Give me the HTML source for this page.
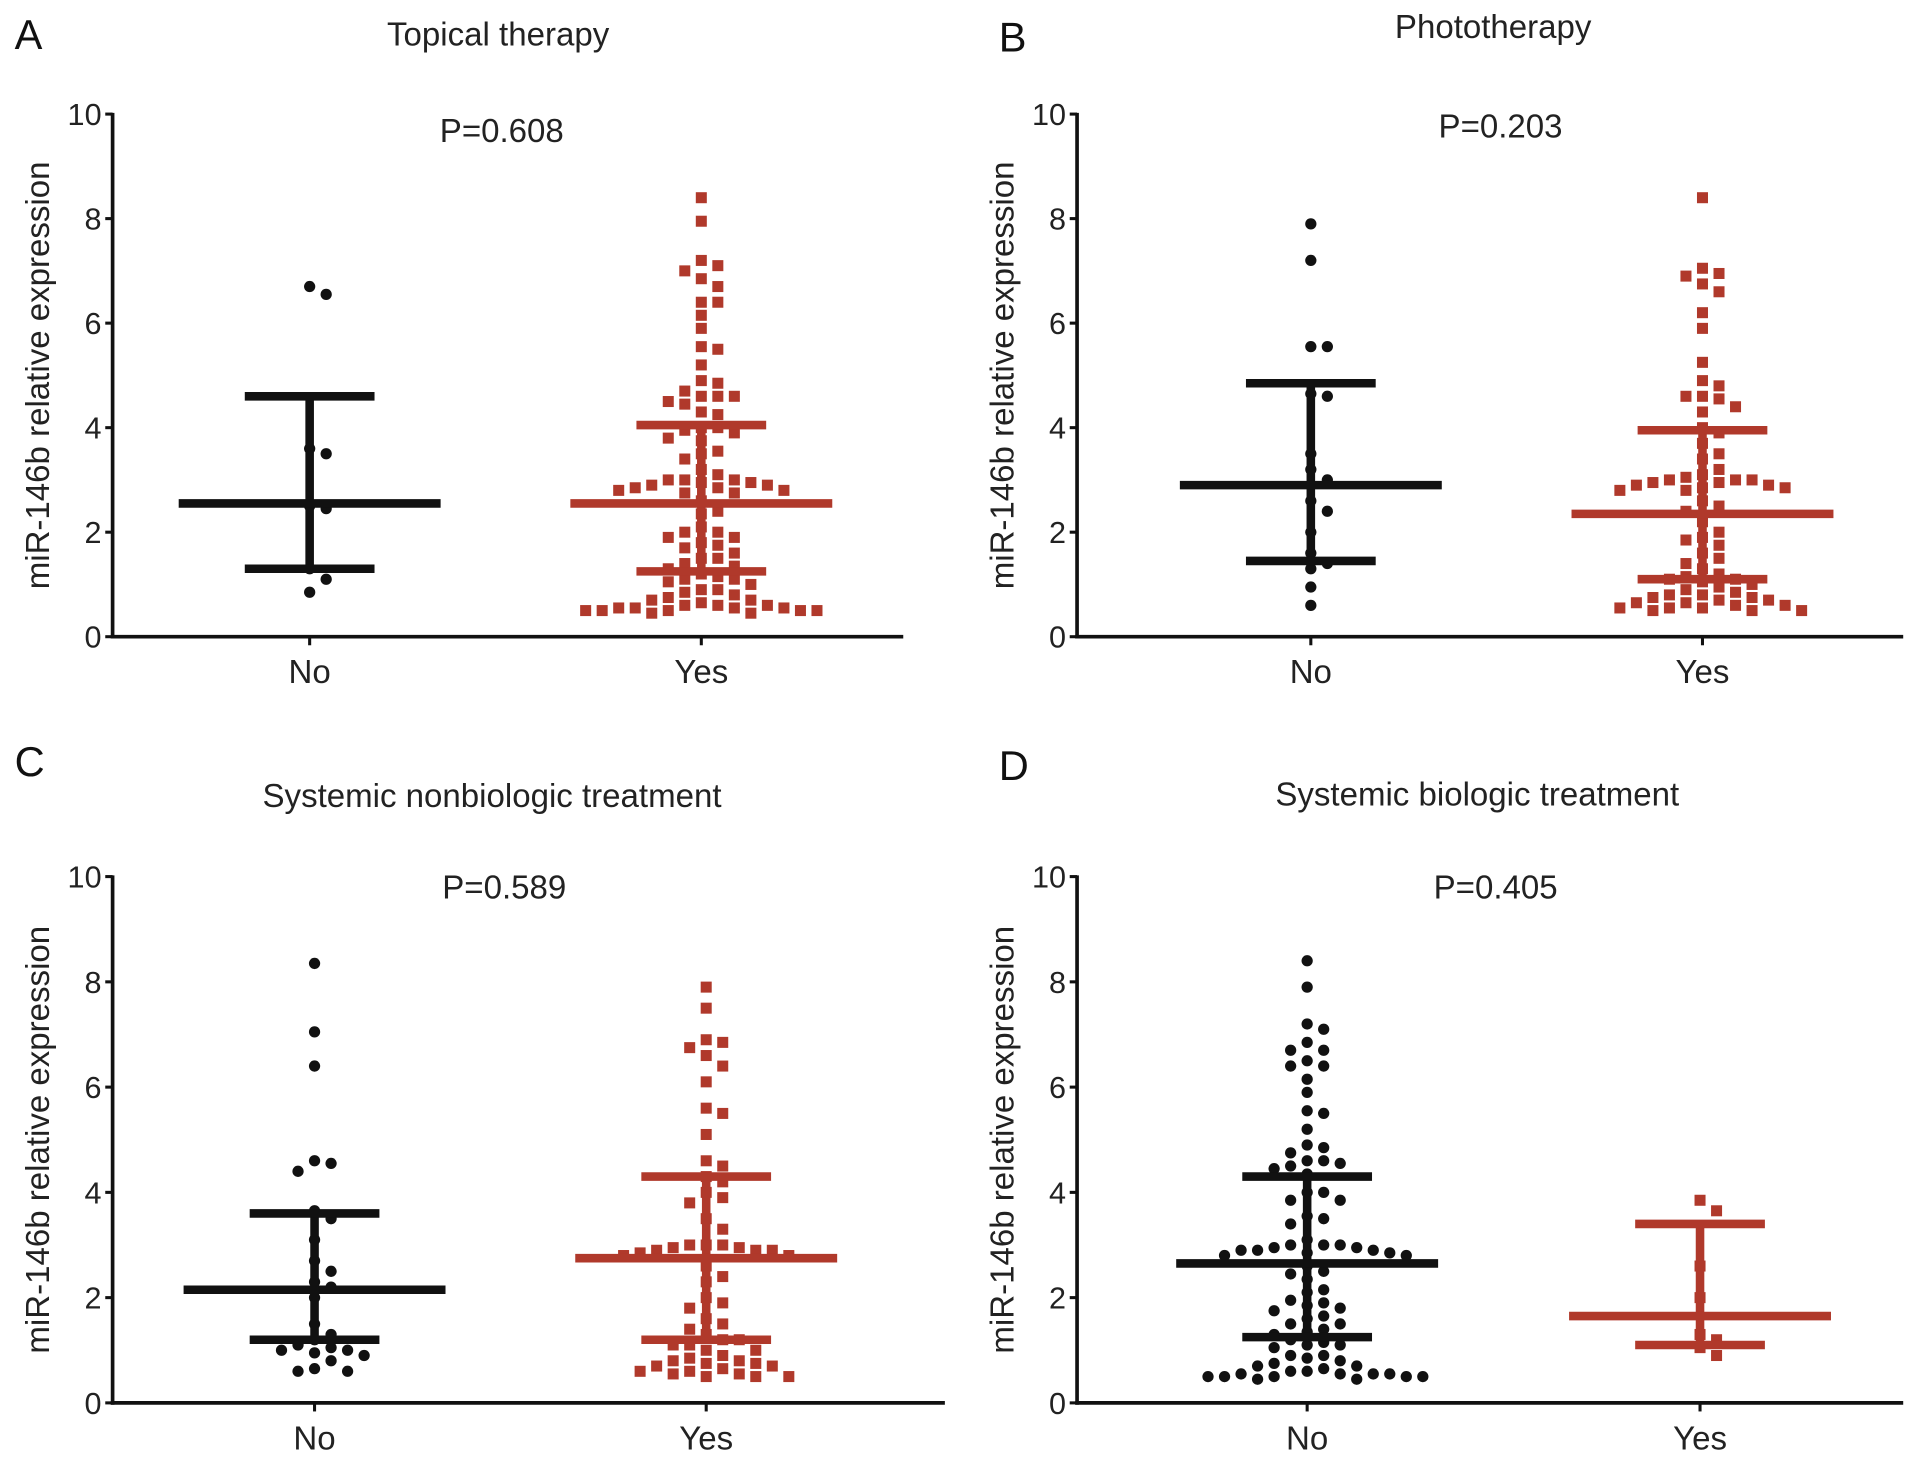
<!DOCTYPE html>
<html><head><meta charset="utf-8"><style>
html,body{margin:0;padding:0;background:#fff;}
svg{display:block;font-family:"Liberation Sans",sans-serif;}
</style></head><body>
<svg id="fig" width="1913" height="1457" viewBox="0 0 1563 1190">
<rect width="1563" height="1190" fill="#fff"/>
</svg>
<script>
// Panel data
const panelTitles = ["Topical therapy","Phototherapy","Systemic nonbiologic treatment","Systemic biologic treatment"];
const panelLetters = ["A","B","C","D"];
const pValues = ["P=0.608","P=0.203","P=0.589","P=0.405"];
const categories = ["No","Yes"];
const yTicks = [0,2,4,6,8,10];

const aNo = [6.7,6.55,3.6,3.5,2.45,2.5,1.3,1.1,0.85];
const aYes = [8.4,7.95,7.2,7.1,7.0,6.85,6.7,6.4,6.4,6.15,5.9,5.55,5.5,5.2,4.85,4.9,4.6,4.6,4.6,4.7,4.5,4.45,4.25,4.3,4.0,4.0,3.95,3.9,3.8,3.75,3.55,3.5,3.4,3.2,3.0,3.0,2.95,2.9,2.85,2.8,2.75,2.75,2.8,2.85,2.9,2.95,3.0,3.1,2.6,2.4,2.35,2.1,2.0,2.0,1.9,1.9,1.8,1.75,1.7,1.6,1.5,1.5,1.4,1.35,1.3,1.2,1.15,1.1,1.1,1.05,1.0,0.9,0.9,0.85,0.8,0.75,0.7,0.65,0.6,0.55,0.55,0.5,0.5,0.5,0.45,0.45,0.5,0.5,0.55,0.55,0.6,0.6,0.7];
const bNo = [7.9,7.2,5.55,5.55,4.65,4.6,3.5,3.2,3.0,2.4,2.6,2.0,1.6,1.4,1.3,0.95,0.6];
const bYes = [8.4,7.05,6.9,6.95,6.75,6.6,6.2,5.9,5.25,4.9,4.8,4.6,4.55,4.6,4.4,4.3,4.0,3.9,3.7,3.5,3.4,3.2,3.0,3.0,2.95,2.9,2.85,2.8,2.8,2.85,2.9,2.95,3.0,3.05,3.1,2.6,2.5,2.4,2.2,2.0,1.9,1.85,1.75,1.6,1.5,1.4,1.3,1.2,1.15,1.1,1.1,1.05,1.0,0.95,0.9,0.85,0.8,0.75,0.7,0.65,0.6,0.55,0.5,0.5,0.5,0.55,0.55,0.6,0.65,0.7,0.75,0.8];
const cNo = [8.35,7.05,6.4,4.6,4.55,4.4,3.65,3.5,3.1,2.7,2.5,2.3,2.2,2.0,1.5,1.3,1.2,1.0,0.95,0.9,1.05,1.1,1.0,0.8,0.6,0.6,0.65];
const cYes = [7.9,7.5,6.9,6.85,6.75,6.6,6.4,6.1,5.6,5.5,5.1,4.6,4.5,4.3,4.2,4.0,3.9,3.8,3.5,3.3,3.0,2.95,2.9,2.9,2.85,2.8,2.8,2.9,2.95,3.0,3.0,2.6,2.4,2.3,2.0,1.9,1.8,1.6,1.5,1.4,1.3,1.2,1.2,1.1,1.1,1.0,1.0,0.9,0.85,0.8,0.75,0.7,0.65,0.6,0.55,0.5,0.5,0.5,0.55,0.6,0.7,0.75,0.8];
const dNo = [8.4,7.9,7.2,7.1,6.85,6.7,6.7,6.5,6.4,6.4,6.15,5.9,5.55,5.5,5.2,4.9,4.85,4.75,4.6,4.6,4.55,4.5,4.45,4.35,4.0,4.0,3.85,3.85,3.55,3.5,3.4,3.1,3.0,3.0,2.95,2.9,2.9,2.85,2.8,2.8,2.85,2.9,2.95,3.0,2.6,2.5,2.45,2.35,2.15,2.1,1.95,1.9,1.85,1.8,1.75,1.65,1.6,1.5,1.5,1.4,1.35,1.3,1.2,1.15,1.1,1.1,1.05,0.9,0.9,0.85,0.8,0.75,0.7,0.65,0.6,0.55,0.55,0.5,0.5,0.5,0.45,0.45,0.5,0.5,0.55,0.55,0.6,0.7];
const dYes = [3.85,3.65,2.6,2.0,1.3,1.2,1.05,0.9];

const groupValues = [[aNo,aYes],[bNo,bYes],[cNo,cYes],[dNo,dYes]];
const means = [[2.55,2.55],[2.9,2.35],[2.15,2.75],[2.65,1.65]];
const sdHigh = [[4.6,4.05],[4.85,3.95],[3.6,4.3],[4.3,3.4]];
const sdLow = [[1.3,1.25],[1.45,1.1],[1.2,1.2],[1.25,1.1]];

const NS="http://www.w3.org/2000/svg";
const svg=document.getElementById('fig');
function mk(tag,attrs,parent){const e=document.createElementNS(NS,tag);for(const k in attrs)e.setAttribute(k,attrs[k]);(parent||svg).appendChild(e);return e;}

const layouts=[
 {ax:92,top:93,bot:520,right:738,cx:[253,573],tx:407,ty:37,px:410,py:116,lx:12,ly:40},
 {ax:880,top:93,bot:520,right:1555,cx:[1071,1391],tx:1220,ty:31,px:1226,py:112,lx:816,ly:42},
 {ax:92,top:716,bot:1146,right:772,cx:[257,577],tx:402,ty:659,px:412,py:734,lx:12,ly:634},
 {ax:880,top:716,bot:1146,right:1555,cx:[1068,1389],tx:1207,ty:658,px:1222,py:734,lx:816,ly:637}
];
const colors=["#111","#b0392b"];

layouts.forEach((L,pi)=>{
  const g=mk('g',{});
  
  
  const y=v=>L.bot-(v/10)*(L.bot-L.top);
  const t=mk('text',{x:L.lx,y:L.ly,'font-size':34,fill:'#111'},g);t.textContent=panelLetters[pi];
  
  
  const ti=mk('text',{x:L.tx,y:L.ty,'font-size':27,'text-anchor':'middle',fill:'#222'},g);ti.textContent=panelTitles[pi];
  
  
  const pv=mk('text',{x:L.px,y:L.py,'font-size':27,'text-anchor':'middle',fill:'#222'},g);pv.textContent=pValues[pi];
  
  
  const yt=mk('text',{x:0,y:0,'font-size':27,'text-anchor':'middle',fill:'#222',transform:`translate(${L.ax-52},${(L.top+L.bot)/2}) rotate(-90)`},g);
  yt.textContent="miR-146b relative expression";
  
  
  const ya=mk('line',{x1:L.ax,y1:L.top-1,x2:L.ax,y2:L.bot+1.5,stroke:'#111','stroke-width':3},g);
  
  
  const xa=mk('line',{x1:L.ax-1.5,y1:L.bot,x2:L.right,y2:L.bot,stroke:'#111','stroke-width':3},g);
  
  
  yTicks.forEach(v=>{
    mk('line',{x1:L.ax-6,y1:y(v),x2:L.ax,y2:y(v),stroke:'#111','stroke-width':2.5},g);
    const tl=mk('text',{x:L.ax-9,y:y(v)+9,'font-size':25,'text-anchor':'end',fill:'#222'},g);tl.textContent=v;
    
    
  });
  categories.forEach((c,ci)=>{
    const cx=L.cx[ci];
    mk('line',{x1:cx,y1:L.bot,x2:cx,y2:L.bot+7,stroke:'#111','stroke-width':2.5},g);
    const cl=mk('text',{x:cx,y:L.bot+38,'font-size':27,'text-anchor':'middle',fill:'#222'},g);cl.textContent=c;
    
    
    const vals=groupValues[pi][ci].slice().sort((a,b)=>b-a);
    const placed=[];const d=13.5;
    vals.forEach(v=>{
      const py=y(v);let k=0,px;
      while(true){
        const off=k===0?0:(k%2?1:-1)*Math.ceil(k/2)*d;
        px=cx+off;
        if(!placed.some(p=>Math.abs(p[0]-px)<12.5&&Math.abs(p[1]-py)<10.5))break;
        k++;
      }
      placed.push([px,py]);
      let m;
      if(ci===0) m=mk('circle',{cx:px,cy:py,r:4.6,fill:colors[0]},g);
      else m=mk('rect',{x:px-4.5,y:py-4.5,width:9,height:9,fill:colors[1]},g);
      
      
    });
    const col=colors[ci];
    const eb=mk('g',{stroke:col,'stroke-width':7},g);
    
    
    mk('line',{x1:cx,y1:y(sdLow[pi][ci]),x2:cx,y2:y(sdHigh[pi][ci])},eb);
    mk('line',{x1:cx-107,y1:y(means[pi][ci]),x2:cx+107,y2:y(means[pi][ci])},eb);
    mk('line',{x1:cx-53,y1:y(sdHigh[pi][ci]),x2:cx+53,y2:y(sdHigh[pi][ci])},eb);
    mk('line',{x1:cx-53,y1:y(sdLow[pi][ci]),x2:cx+53,y2:y(sdLow[pi][ci])},eb);
  });
});
</script>
</body></html>
